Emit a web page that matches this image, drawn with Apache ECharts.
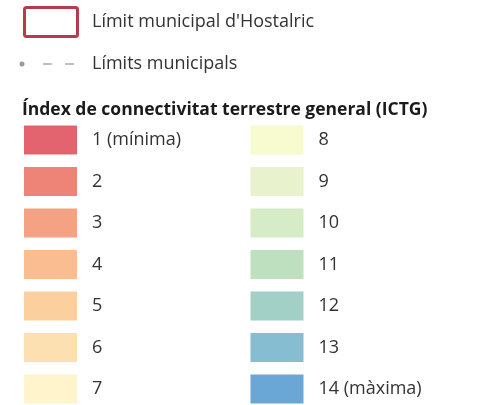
<!DOCTYPE html>
<html>
<head>
<meta charset="utf-8">
<script src="https://cdn.jsdelivr.net/npm/echarts@6/dist/echarts.min.js"></script>
<style>
  html, body { margin: 0; padding: 0; background: #fff; }
  #main { width: 477px; height: 405px; }
</style>
</head>
<body>
<div id="main"></div>
<script>
var classes = [1, 2, 3, 4, 5, 6, 7, 8, 9, 10, 11, 12, 13, 14];
var classLabels = ['1 (mínima)', '2', '3', '4', '5', '6', '7',
  '8', '9', '10', '11', '12', '13', '14 (màxima)'];
var classColors = ['#e3646f', '#ee8377', '#f5a284', '#fabd92', '#fccf9f', '#fde0b2', '#fff4cb',
  '#f8fbd0', '#e8f2cc', '#d6ecc6', '#bfe0bf', '#a2d0c7', '#87bdd0', '#6ba7d6'];
var perColumn = 7;

var font = '"Open Sans", sans-serif';
var textColor = '#333';

var chart = echarts.init(document.getElementById('main'), null, { renderer: 'canvas' });

var data = classes.map(function (c, i) {
  return {
    value: [Math.floor(i / perColumn), i % perColumn, c],
    name: classLabels[i],
    itemStyle: { color: classColors[i] }
  };
});

var option = {
  animation: false,
  backgroundColor: '#fff',
  title: {
    text: 'Índex de connectivitat terrestre general (ICTG)',
    left: 17,
    top: 96,
    textStyle: { fontFamily: font, fontSize: 17.5, fontWeight: 'bold', color: '#1a1a1a' }
  },
  grid: { left: 50.5, right: 200, top: 140, bottom: 16 },
  xAxis: { type: 'value', min: 0, max: 1, show: false },
  yAxis: { type: 'value', min: 0, max: 6, inverse: true, show: false },
  graphic: [
    {
      type: 'rect',
      shape: { x: 24.5, y: 7.5, width: 53, height: 29, r: 2 },
      style: { fill: '#fff', stroke: '#b33d48', lineWidth: 3 }
    },
    {
      type: 'text', x: 92, y: 22,
      style: { text: "Límit municipal d'Hostalric", fill: textColor, font: '18px ' + font, verticalAlign: 'middle' }
    },
    {
      type: 'circle',
      shape: { cx: 22, cy: 64, r: 2.5 },
      style: { fill: '#9a9a9a' }
    },
    {
      type: 'line',
      shape: { x1: 43, y1: 64, x2: 76, y2: 64 },
      style: { stroke: '#aaaaaa', lineWidth: 1.5, lineDash: [9, 13] }
    },
    {
      type: 'text', x: 92, y: 64,
      style: { text: 'Límits municipals', fill: textColor, font: '18px ' + font, verticalAlign: 'middle' }
    }
  ],
  series: [{
    type: 'scatter',
    symbol: 'rect',
    symbolSize: [53, 29],
    data: data,
    itemStyle: { opacity: 1 },
    label: {
      show: true,
      position: 'right',
      distance: 15,
      formatter: '{b}',
      fontFamily: font,
      fontSize: 18,
      color: textColor
    }
  }]
};

chart.setOption(option);
</script>
</body>
</html>
